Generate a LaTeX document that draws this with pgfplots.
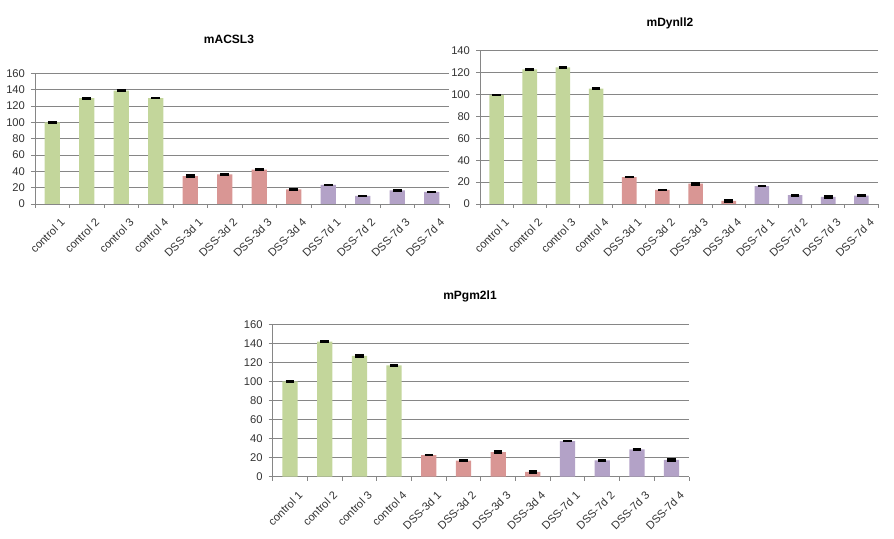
\documentclass[border=0pt]{standalone}
\usepackage{pgfplots}
\pgfplotsset{compat=1.18}
\usepackage{fontspec}
\setmainfont{Liberation Sans}

\definecolor{cgreen}{HTML}{C3D69B}
\definecolor{cred}{HTML}{D99694}
\definecolor{cpurple}{HTML}{B3A2C7}
\definecolor{cgrid}{HTML}{868686}

\pgfplotsset{
  xlchart/.style={
    scale only axis,
    anchor=south west,
    ybar, bar width=0.44, bar shift=0pt,
    xmin=-0.5, xmax=11.5, ymin=0,
    axis lines*=left,
    axis line style={cgrid, line width=0.6pt},
    xtick={0,...,11},
    xticklabels={control 1,control 2,control 3,control 4,DSS-3d 1,DSS-3d 2,DSS-3d 3,DSS-3d 4,DSS-7d 1,DSS-7d 2,DSS-7d 3,DSS-7d 4},
    major x tick style={draw=none},
    minor xtick={-0.5,0.5,...,11.5},
    minor x tick style={cgrid, line width=0.6pt},
    minor tick length=3pt,
    xtick align=outside, ytick align=outside,
    major tick length=3pt,
    y tick style={cgrid, line width=0.6pt},
    ymajorgrids,
    major grid style={cgrid, line width=0.6pt},
    tick label style={font=\fontsize{8.4}{9}\selectfont, text=black!80},
    /pgf/number format/assume math mode=true,
    x tick label style={rotate=45, anchor=north east, inner sep=1pt, yshift=-8pt},
    yticklabel style={xshift=-1pt},
    error bars/y dir=both, error bars/y explicit,
    error bars/error mark=|,
    error bars/error mark options={black, line width=1.5pt, mark size=3.2pt},
    error bars/error bar style={black, line width=0.8pt},
  },
  gbar/.style={fill=cgreen, draw=none},
  rbar/.style={fill=cred, draw=none},
  pbar/.style={fill=cpurple, draw=none},
}

\begin{document}
\begin{tikzpicture}
\path[use as bounding box] (0,0) rectangle (670.5pt,404.25pt);

% mACSL3
\begin{axis}[xlchart, at={(26.25pt,251.25pt)}, width=310.5pt, height=98pt,
  ymax=160, ytick={0,20,...,160}]
\addplot[gbar] coordinates {(0,100) +- (0,0.8) (1,129.5) +- (0,0.4) (2,138.8) +- (0,0.9) (3,129.6) +- (0,0.4)};
\addplot[rbar] coordinates {(4,34.2) +- (0,0.8) (5,36.4) +- (0,0.4) (6,42.1) +- (0,0.7) (7,18) +- (0,0.3)};
\addplot[pbar] coordinates {(8,23.3) +- (0,0.4) (9,9.8) +- (0,0.3) (10,16.8) +- (0,0.4) (11,14.7) +- (0,0.4)};
\end{axis}
\node[font=\bfseries\fontsize{9}{10}\selectfont] at (171.75pt,375pt) {mACSL3};

% mDynll2
\begin{axis}[xlchart, at={(360pt,251.25pt)}, width=298.5pt, height=115pt,
  ymax=140, ytick={0,20,...,140}]
\addplot[gbar] coordinates {(0,99.5) +- (0,0.4) (1,123) +- (0,0.3) (2,124.8) +- (0,0.3) (3,105.3) +- (0,0.7)};
\addplot[rbar] coordinates {(4,24.5) +- (0,0.3) (5,12.8) +- (0,0.3) (6,18.6) +- (0,0.9) (7,2.9) +- (0,0.7)};
\addplot[pbar] coordinates {(8,16.4) +- (0,0.3) (9,8) +- (0,0.4) (10,6.6) +- (0,0.7) (11,7.6) +- (0,0.7)};
\end{axis}
\node[font=\bfseries\fontsize{9}{10}\selectfont] at (502.5pt,387pt) {mDynll2};

% mPgm2l1
\begin{axis}[xlchart, at={(204.5pt,46.7pt)}, width=312.2pt, height=114.3pt,
  ymax=160, ytick={0,20,...,160}]
\addplot[gbar] coordinates {(0,100.1) +- (0,0.3) (1,141.8) +- (0,0.6) (2,126.9) +- (0,0.7) (3,117) +- (0,0.3)};
\addplot[rbar] coordinates {(4,22.6) +- (0,0.3) (5,17) +- (0,0.7) (6,25.9) +- (0,0.7) (7,5.1) +- (0,0.7)};
\addplot[pbar] coordinates {(8,37.3) +- (0,0.3) (9,17.2) +- (0,0.3) (10,28.6) +- (0,0.7) (11,17.6) +- (0,0.8)};
\end{axis}
\node[font=\bfseries\fontsize{9}{10}\selectfont] at (352.5pt,182.25pt) {mPgm2l1};
\end{tikzpicture}
\end{document}
